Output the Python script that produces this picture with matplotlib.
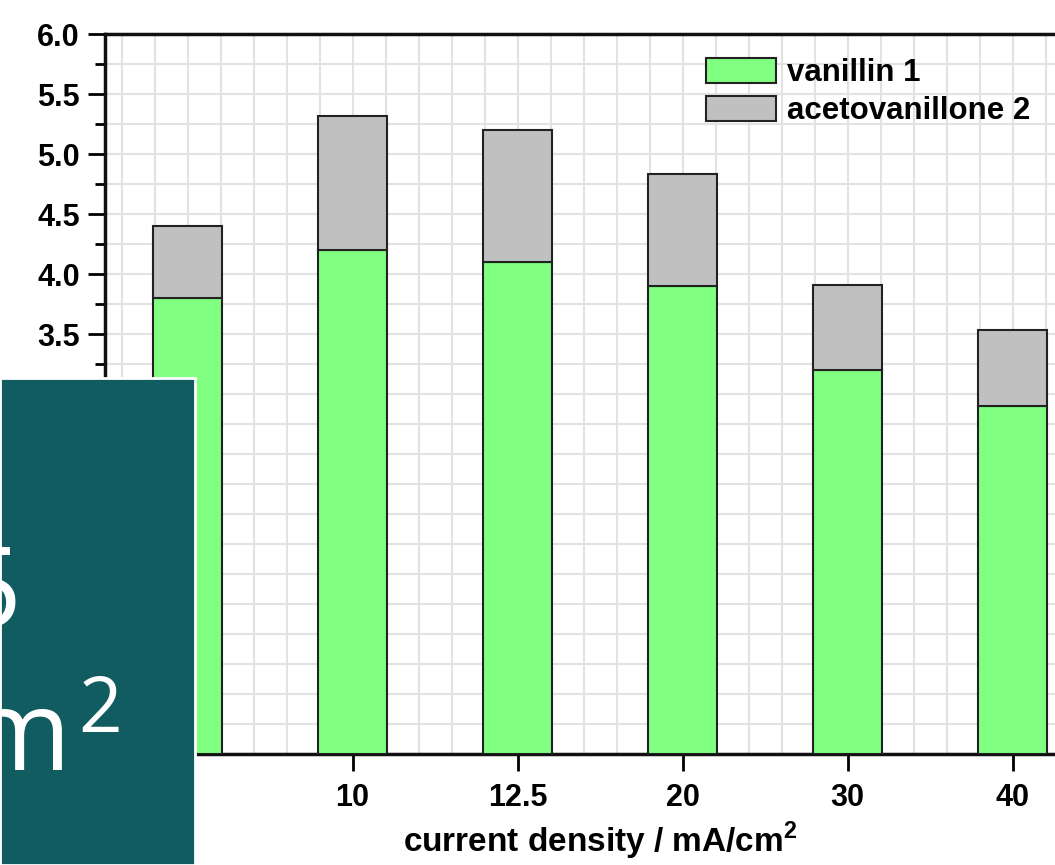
import numpy as np
import matplotlib
matplotlib.use("Agg")
import matplotlib.pyplot as plt
from matplotlib.patches import Rectangle
from matplotlib.ticker import MultipleLocator

# product yield per current density (stacked)
densities = ['5', '10', '12.5', '20', '30', '40']
vanillin = [3.8, 4.2, 4.1, 3.9, 3.2, 2.9]
acetovanillone = [0.6, 1.12, 1.1, 0.93, 0.71, 0.63]
y_ticks = [3.5, 4.0, 4.5, 5.0, 5.5, 6.0]

plt.rcParams['font.family'] = ['Liberation Sans', 'DejaVu Sans']
plt.rcParams['font.weight'] = 'bold'
plt.rcParams['mathtext.fontset'] = 'custom'
plt.rcParams['mathtext.bf'] = 'Liberation Sans:bold'
plt.rcParams['mathtext.rm'] = 'Liberation Sans:bold'

W, H = 1055, 865
fig = plt.figure(figsize=(W / 100, H / 100), dpi=100)

# axes run past the right edge of the canvas
ax = fig.add_axes([105 / W, (H - 754) / H, 990 / W, 720 / H])

x = np.arange(1, len(densities) + 1)
green = '#80ff80'
grey = '#c0c0c0'
ax.bar(x, vanillin, width=0.42, color=green, edgecolor='#222222', linewidth=1.5,
       label='vanillin 1', zorder=3)
ax.bar(x, acetovanillone, width=0.42, bottom=vanillin, color=grey, edgecolor='#222222',
       linewidth=1.5, label='acetovanillone 2', zorder=3)

ax.set_xlim(0.5, 6.5)
ax.set_ylim(0, 6.0)

ax.set_xticks(x)
ax.set_xticklabels(densities)
ax.xaxis.set_minor_locator(MultipleLocator(0.2))
yt = np.arange(0, 6.01, 0.5)
ax.set_yticks(yt)
ax.set_yticklabels([f'{v:.1f}' if v in y_ticks else '' for v in yt])
ax.yaxis.set_minor_locator(MultipleLocator(0.25))

ax.grid(which='both', color='#e2e2e2', linewidth=1.5)
ax.set_axisbelow(True)

ax.tick_params(axis='both', which='major', direction='out', length=12, width=2,
               labelsize=22, pad=6)
ax.tick_params(axis='x', which='major', pad=9)
ax.tick_params(axis='y', which='minor', direction='out', length=7, width=2)
ax.tick_params(axis='x', which='minor', length=0)
for side in ['top', 'left', 'bottom', 'right']:
    ax.spines[side].set_linewidth(2.5)
    ax.spines[side].set_color('#111111')

ax.set_xlabel(r'current density / mA/cm$^{\mathbf{2}}$', fontsize=24, fontweight='bold',
              labelpad=5)

ax.legend(loc='upper left', bbox_to_anchor=(706 / W, 1 - 58 / H), bbox_transform=fig.transFigure,
          frameon=False, fontsize=22.5, handlelength=2.25, handleheight=0.85,
          handletextpad=0.35, labelspacing=0.25, borderpad=0, borderaxespad=0)

# teal caption panel over the lower left corner
panel = Rectangle((0, 0), 195 / W, (H - 378) / H, transform=fig.transFigure,
                  facecolor='#115c61', edgecolor='white', linewidth=2, zorder=10)
fig.add_artist(panel)
big = dict(family=['Open Sans', 'DejaVu Sans'], color='white', weight='normal',
           transform=fig.transFigure, zorder=11, va='baseline')
fig.text(23 / W, 1 - 627 / H, '12.5', fontsize=80, ha='right', **big)
fig.text(71 / W, 1 - 770 / H, 'mA/cm', fontsize=80, ha='right', **big)
fig.text(78 / W, 1 - 732 / H, '2', fontsize=55, ha='left', **big)

fig.savefig('out.png', dpi=100)
